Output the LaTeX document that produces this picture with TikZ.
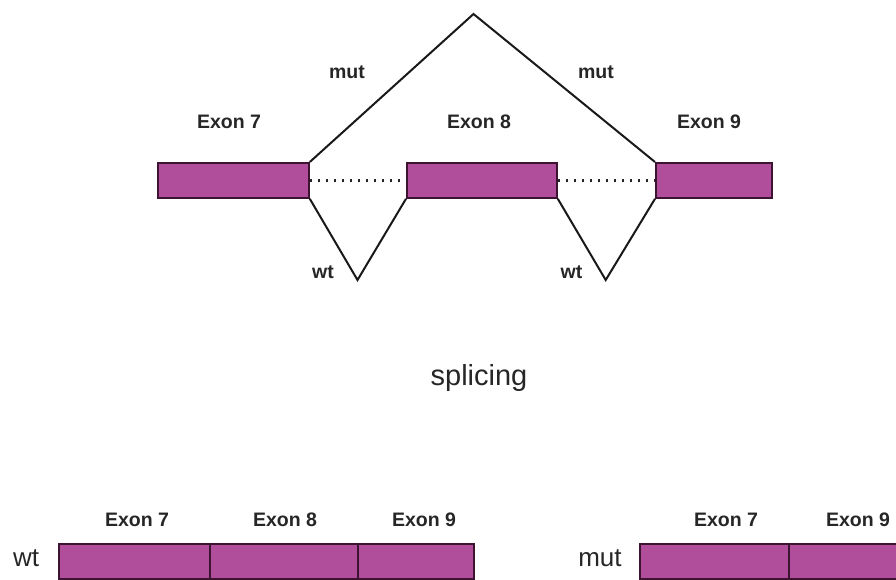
\documentclass[tikz,border=0pt]{standalone}
\usepackage{fontspec}
\setmainfont{Liberation Sans}
\definecolor{exonfill}{RGB}{176,78,156}
\definecolor{exonline}{RGB}{60,20,50}
\begin{document}
\begin{tikzpicture}[x=1pt,y=-1pt,
  exon/.style={draw=exonline,fill=exonfill,line width=1.8pt,inner sep=0pt,anchor=north west,minimum height=35pt},
  lbl/.style={font=\bfseries\fontsize{19.5}{20}\selectfont,anchor=base,inner sep=0pt,text=black!85},
  biglbl/.style={font=\fontsize{26}{28}\selectfont,anchor=base,inner sep=0pt,text=black!85},
  junction/.style={line width=2pt,line join=miter,draw=black!90},
  intron/.style={line width=2.6pt,draw=black!85,dash pattern=on 2.6pt off 5.4pt}]
\useasboundingbox (0,0) rectangle (896,579);
% top exons
\node[exon,minimum width=151pt] (e7) at (157,162) {};
\node[exon,minimum width=150pt] (e8) at (406,162) {};
\node[exon,minimum width=116pt] (e9) at (655,162) {};
\coordinate (peak) at (473.5,14);
\coordinate (wtA) at (357.5,280);
\coordinate (wtB) at (605.7,280);
\draw[intron] (e7.east) -- (e8.west);
\draw[intron] (e8.east) -- (e9.west);
\draw[junction] (e7.north east) -- (peak) -- (e9.north west);
\draw[junction] (e7.south east) -- (wtA) -- (e8.south west);
\draw[junction] (e8.south east) -- (wtB) -- (e9.south west);
\node[lbl] (t7) at (229,128) {Exon 7};
\node[lbl] (t8) at (479,128) {Exon 8};
\node[lbl] (t9) at (709,128) {Exon 9};
\node[lbl] (m1) at (347,78) {mut};
\node[lbl] (m2) at (596,78) {mut};
\node[lbl] (w1) at (323,278) {wt};
\node[lbl] (w2) at (571.5,278) {wt};
\node[font=\fontsize{29}{32}\selectfont,anchor=base,inner sep=0pt,text=black!85] (spl) at (479,385) {splicing};
% bottom wt transcript
\node[exon,minimum width=151pt] (b7) at (58,543) {};
\node[exon,minimum width=148pt] (b8) at (209,543) {};
\node[exon,minimum width=116pt] (b9) at (357,543) {};
\node[lbl] (bt7) at (137,526) {Exon 7};
\node[lbl] (bt8) at (285,526) {Exon 8};
\node[lbl] (bt9) at (424,526) {Exon 9};
\node[biglbl] (bwt) at (26,566) {wt};
% bottom mut transcript
\node[exon,minimum width=149pt] (c7) at (639,543) {};
\node[exon,minimum width=120pt] (c9) at (788,543) {};
\node[lbl] (ct7) at (726,526) {Exon 7};
\node[lbl] (ct9) at (858,526) {Exon 9};
\node[biglbl] (cmut) at (600,566) {mut};
\end{tikzpicture}
\end{document}
